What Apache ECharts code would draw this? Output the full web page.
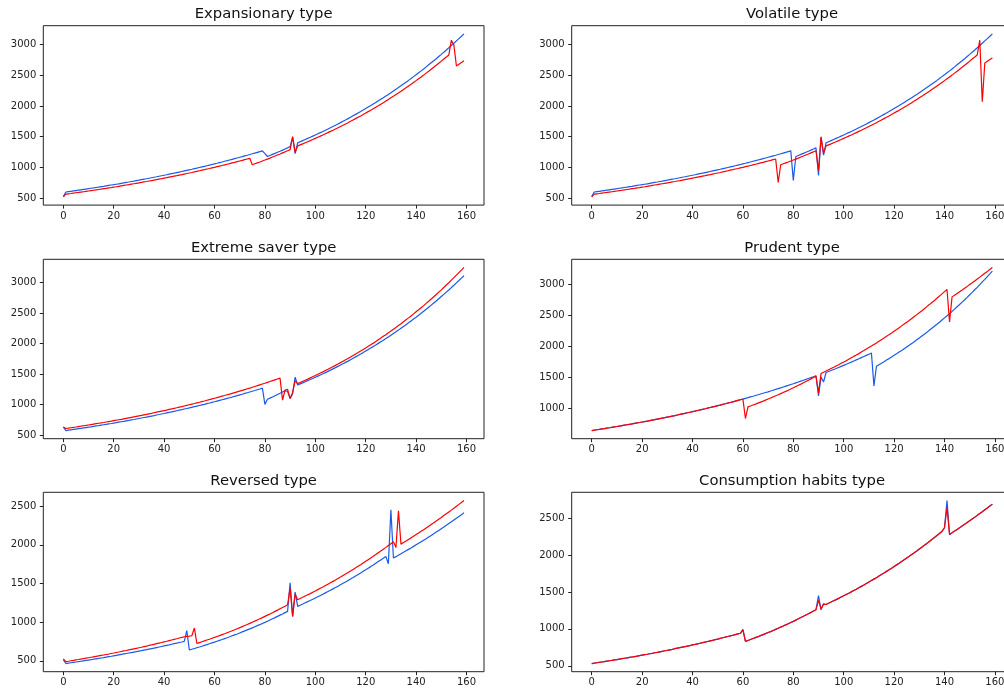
<!DOCTYPE html>
<html><head><meta charset="utf-8">
<script src="https://cdn.jsdelivr.net/npm/echarts@6/dist/echarts.min.js"></script>
<style>html,body{margin:0;padding:0;background:#fff;overflow:hidden;width:1004px;height:691px}#c{width:1024px;height:691px}</style>
</head><body><div id="c"></div>
<script>
const titles = ['Expansionary type','Volatile type','Extreme saver type','Prudent type','Reversed type','Consumption habits type'];
const xTicks = [0,20,40,60,80,100,120,140,160];
const yTicksA = [500,1000,1500,2000,2500,3000];
const yTicksB = [1000,1500,2000,2500,3000];
const yTicksC = [500,1000,1500,2000,2500];

const expansionaryBlue = [525,600,606,612,618,624,630,636,642,648,654,661,667,674,680,687,693,700,707,714,720,727,734,742,749,756,763,771,778,786,793,801,809,816,824,832,840,848,857,865,873,881,890,899,907,916,925,934,943,952,961,970,980,989,999,1009,1018,1028,1038,1048,1058,1068,1079,1089,1100,1110,1121,1132,1143,1154,1165,1176,1188,1199,1211,1222,1234,1246,1258,1270,1225,1178,1195,1212,1229,1247,1264,1282,1301,1319,1338,1490,1225,1400,1418,1436,1454,1472,1490,1509,1528,1547,1566,1585,1605,1625,1646,1666,1686,1708,1729,1751,1772,1794,1817,1840,1863,1886,1909,1933,1958,1982,2006,2031,2057,2083,2109,2135,2161,2188,2216,2244,2271,2299,2328,2358,2387,2416,2446,2477,2508,2540,2571,2602,2636,2669,2702,2735,2769,2804,2839,2875,2910,2946,2983,3021,3059,3096,3134,3173];
const expansionaryRed = [520,565,571,576,582,588,593,599,605,611,617,623,629,635,641,647,654,660,667,673,680,686,693,700,707,714,720,728,735,742,749,756,764,771,779,786,794,802,810,817,825,833,842,850,858,866,875,883,892,901,910,918,927,937,946,955,964,974,983,993,1002,1012,1022,1032,1042,1052,1062,1073,1083,1094,1105,1115,1126,1137,1148,1044,1059,1074,1089,1105,1120,1136,1152,1169,1185,1202,1219,1237,1254,1272,1290,1500,1245,1350,1367,1384,1402,1419,1436,1454,1473,1491,1509,1527,1547,1566,1586,1605,1625,1645,1666,1687,1707,1728,1750,1772,1794,1816,1838,1861,1885,1908,1931,1955,1980,2004,2029,2054,2079,2106,2132,2158,2185,2211,2239,2268,2296,2324,2352,2382,2412,2442,2472,2502,2534,2565,2597,2629,2661,2695,2729,2763,2796,2830,3070,2990,2650,2678,2706,2734];
const volatileBlue = [525,600,606,612,618,624,630,636,642,648,654,661,667,674,680,687,693,700,707,714,720,727,734,742,749,756,763,771,778,786,793,801,809,816,824,832,840,848,857,865,873,881,890,899,907,916,925,934,943,952,961,970,980,989,999,1009,1018,1028,1038,1048,1058,1068,1079,1089,1100,1110,1121,1132,1143,1154,1165,1176,1188,1199,1211,1222,1234,1246,1258,1270,790,1178,1195,1212,1229,1247,1264,1282,1301,1319,870,1485,1200,1400,1418,1436,1454,1472,1490,1509,1528,1547,1566,1585,1605,1625,1646,1666,1686,1708,1729,1751,1772,1794,1817,1840,1863,1886,1909,1933,1958,1982,2006,2031,2057,2083,2109,2135,2161,2188,2216,2244,2271,2299,2328,2358,2387,2416,2446,2477,2508,2540,2571,2602,2636,2669,2702,2735,2769,2804,2839,2875,2910,2946,2983,3021,3059,3096,3134,3173];
const volatileRed = [520,565,571,576,582,588,593,599,605,611,617,623,629,635,641,647,654,660,667,673,680,686,693,700,707,714,720,728,735,742,749,756,764,771,779,786,794,802,810,817,825,833,842,850,858,866,875,883,892,901,910,918,927,937,946,955,964,974,983,993,1002,1012,1022,1032,1042,1052,1062,1073,1083,1094,1105,1115,1126,1137,755,1044,1059,1074,1089,1105,1120,1136,1152,1169,1185,1202,1219,1237,1254,1272,950,1500,1230,1350,1367,1384,1402,1419,1436,1454,1473,1491,1509,1527,1547,1566,1586,1605,1625,1645,1666,1687,1707,1728,1750,1772,1794,1816,1838,1861,1885,1908,1931,1955,1980,2004,2029,2054,2079,2106,2132,2158,2185,2211,2239,2268,2296,2324,2352,2382,2412,2442,2472,2502,2534,2565,2597,2629,2661,2695,2729,2763,2796,2830,3070,2070,2700,2727,2754,2782];
const saverBlue = [635,577,583,589,595,601,607,613,620,626,632,638,645,652,658,665,672,679,686,692,699,706,714,721,728,736,743,751,758,766,774,782,790,798,806,814,822,831,839,848,856,865,874,883,892,901,910,919,929,938,947,957,967,977,987,997,1006,1017,1027,1038,1048,1059,1070,1081,1092,1103,1114,1125,1137,1148,1160,1171,1184,1196,1208,1220,1232,1245,1257,1270,1005,1088,1107,1127,1147,1167,1187,1208,1230,1215,1100,1180,1450,1322,1340,1357,1375,1393,1411,1429,1448,1467,1486,1505,1525,1545,1565,1586,1606,1627,1649,1670,1692,1713,1736,1759,1782,1805,1828,1852,1877,1901,1926,1950,1976,2003,2029,2055,2081,2109,2137,2165,2192,2220,2250,2280,2309,2339,2369,2401,2432,2464,2496,2528,2561,2595,2629,2663,2697,2733,2769,2805,2841,2877,2916,2954,2993,3031,3070,3110];
const saverRed = [635,610,616,623,629,635,642,648,655,661,668,675,682,689,696,702,709,717,724,731,739,746,754,761,769,777,785,793,801,809,817,825,834,842,851,859,868,877,886,895,903,912,922,931,941,950,960,969,979,989,999,1009,1019,1030,1040,1051,1061,1072,1083,1094,1105,1116,1127,1139,1150,1162,1173,1186,1198,1210,1222,1234,1247,1260,1272,1285,1298,1311,1325,1338,1351,1365,1379,1393,1407,1421,1435,1075,1240,1250,1100,1200,1390,1345,1364,1382,1401,1419,1438,1458,1478,1497,1517,1537,1558,1579,1601,1622,1643,1666,1688,1711,1734,1756,1781,1805,1829,1853,1878,1904,1929,1955,1981,2007,2035,2063,2090,2118,2146,2175,2205,2235,2264,2294,2325,2357,2389,2420,2452,2486,2520,2553,2587,2621,2657,2693,2730,2766,2802,2841,2879,2918,2957,2995,3037,3078,3119,3161,3202,3245];
const prudentBlue = [633,639,646,652,659,665,672,678,685,692,699,706,713,720,727,734,741,749,756,763,771,779,786,794,802,810,818,826,834,842,851,859,868,876,885,894,903,912,921,930,939,948,958,967,977,986,996,1006,1016,1026,1036,1046,1057,1067,1078,1088,1099,1110,1121,1132,1143,1155,1166,1178,1189,1201,1213,1225,1237,1249,1261,1274,1287,1300,1312,1325,1339,1352,1365,1379,1392,1406,1420,1434,1448,1462,1477,1492,1506,1521,1195,1500,1420,1574,1590,1606,1623,1639,1656,1673,1690,1707,1725,1742,1760,1778,1796,1815,1833,1852,1871,1890,1357,1676,1701,1725,1750,1775,1799,1826,1852,1878,1905,1931,1960,1988,2016,2045,2073,2104,2134,2165,2195,2225,2258,2291,2324,2356,2389,2424,2459,2494,2529,2564,2602,2640,2677,2715,2753,2793,2834,2874,2915,2955,2998,3042,3085,3129,3172,3217];
const prudentRed = [633,639,646,652,659,665,672,678,685,692,699,706,713,720,727,734,741,749,756,763,771,779,786,794,802,810,818,826,834,842,851,859,868,876,885,894,903,912,921,930,939,948,958,967,977,986,996,1006,1016,1026,1036,1046,1057,1067,1078,1088,1099,1110,1121,1132,1143,828,1016,1031,1047,1062,1078,1094,1110,1127,1144,1161,1178,1196,1213,1232,1250,1268,1287,1307,1326,1346,1366,1386,1407,1428,1449,1471,1493,1515,1243,1557,1577,1597,1618,1638,1658,1680,1701,1723,1744,1766,1789,1812,1835,1857,1880,1905,1929,1954,1978,2002,2028,2054,2080,2106,2132,2160,2188,2215,2243,2271,2300,2330,2359,2389,2418,2450,2481,2512,2544,2575,2608,2642,2675,2709,2742,2778,2813,2849,2885,2920,2395,2800,2828,2856,2884,2912,2941,2970,3000,3029,3059,3089,3120,3151,3182,3213,3245,3277];
const reversedBlue = [515,465,470,475,480,485,489,495,500,505,510,515,521,526,531,537,542,548,554,559,565,571,577,583,589,595,601,607,613,619,626,632,639,645,652,659,665,672,679,686,693,700,707,715,722,729,737,744,752,890,640,650,660,670,679,689,700,710,721,732,742,754,765,776,788,799,811,824,836,848,861,874,887,900,913,927,941,955,969,984,998,1013,1029,1044,1059,1075,1091,1107,1124,1140,1510,1075,1390,1205,1220,1235,1251,1266,1281,1297,1314,1330,1346,1362,1379,1396,1414,1431,1448,1466,1485,1503,1521,1540,1559,1578,1598,1617,1637,1658,1678,1699,1719,1740,1762,1784,1806,1828,1850,1755,2455,1830,1848,1867,1885,1904,1923,1942,1961,1981,2001,2021,2041,2061,2081,2102,2123,2144,2166,2187,2209,2231,2253,2276,2298,2321,2344,2368,2391,2415];
const reversedRed = [525,490,495,501,506,512,517,523,528,534,540,546,552,558,564,570,576,582,588,595,601,608,614,621,628,634,641,648,655,662,669,676,684,691,699,706,714,722,730,737,745,753,762,770,778,786,795,803,812,816,820,825,925,725,736,747,758,769,780,792,803,815,827,839,851,864,877,889,902,916,929,943,957,970,985,1000,1014,1029,1044,1059,1075,1091,1107,1123,1140,1156,1173,1190,1207,1225,1440,1075,1360,1290,1306,1322,1338,1354,1370,1387,1404,1421,1438,1455,1474,1492,1510,1528,1546,1565,1584,1604,1623,1642,1662,1683,1703,1724,1744,1766,1787,1809,1831,1852,1875,1899,1922,1945,1968,1992,2016,2040,1965,2440,2010,2030,2050,2071,2091,2112,2133,2154,2176,2197,2219,2241,2264,2286,2309,2332,2355,2379,2402,2426,2450,2475,2499,2524,2549,2575];
const habitsBlue = [530,535,541,546,551,556,562,568,573,579,584,590,596,602,607,613,619,625,631,638,644,650,656,663,669,676,682,689,696,703,709,716,723,731,738,745,752,759,767,774,782,789,797,805,813,821,829,837,845,853,861,870,879,887,896,904,913,922,931,940,990,830,843,856,869,881,894,908,922,936,950,963,978,993,1008,1023,1038,1054,1070,1086,1102,1118,1136,1153,1170,1188,1205,1223,1242,1260,1450,1258,1340,1330,1347,1363,1380,1396,1413,1431,1448,1466,1483,1501,1520,1538,1557,1576,1595,1615,1634,1654,1674,1694,1715,1736,1757,1779,1800,1822,1845,1867,1889,1912,1936,1960,1983,2007,2031,2056,2082,2107,2132,2158,2185,2211,2238,2265,2292,2320,2370,2740,2280,2302,2325,2348,2371,2394,2417,2441,2465,2489,2513,2538,2562,2587,2613,2638,2664,2690];
const habitsRed = [530,535,541,546,551,556,562,568,573,579,584,590,596,602,607,613,619,625,631,638,644,650,656,663,669,676,682,689,696,703,709,716,723,731,738,745,752,759,767,774,782,789,797,805,813,821,829,837,845,853,861,870,879,887,896,904,913,922,931,940,990,830,843,856,869,881,894,908,922,936,950,963,978,993,1008,1023,1038,1054,1070,1086,1102,1118,1136,1153,1170,1188,1205,1223,1242,1260,1385,1270,1335,1330,1347,1363,1380,1396,1413,1431,1448,1466,1483,1501,1520,1538,1557,1576,1595,1615,1634,1654,1674,1694,1715,1736,1757,1779,1800,1822,1845,1867,1889,1912,1936,1960,1983,2007,2031,2056,2082,2107,2132,2158,2185,2211,2238,2265,2292,2320,2370,2640,2280,2302,2325,2348,2371,2394,2417,2441,2465,2489,2513,2538,2562,2587,2613,2638,2664,2690];

const panels = [
  {blue: expansionaryBlue, red: expansionaryRed, ticks: yTicksA},
  {blue: volatileBlue, red: volatileRed, ticks: yTicksA},
  {blue: saverBlue, red: saverRed, ticks: yTicksA},
  {blue: prudentBlue, red: prudentRed, ticks: yTicksB},
  {blue: reversedBlue, red: reversedRed, ticks: yTicksC},
  {blue: habitsBlue, red: habitsRed, ticks: yTicksC}
];

const FONT = 'DejaVu Sans';
const colLeft = [43.3, 571.7], plotW = 440.7, rowTop = [25.7, 259.3, 492.3], plotH = 179.4;
const BLUE = '#1a5ae8', RED = '#ff0000';

const grid = [], xAxis = [], yAxis = [], series = [], graphic = [];
panels.forEach((p, i) => {
  const col = i % 2, row = Math.floor(i / 2);
  const n = p.blue.length;
  const all = p.blue.concat(p.red);
  const lo = Math.min(...all), hi = Math.max(...all), m = (hi - lo) * 0.05;
  grid.push({left: colLeft[col], top: rowTop[row], width: plotW, height: plotH,
    show: true, borderColor: '#222', borderWidth: 1, backgroundColor: 'transparent', containLabel: false});
  xAxis.push({type: 'value', gridIndex: i, min: -(n - 1) * 0.05, max: (n - 1) * 1.05,
    axisLine: {show: false, onZero: false}, splitLine: {show: false},
    axisTick: {show: true, length: 3.5, inside: false, customValues: xTicks, lineStyle: {color: '#222', width: 1}},
    axisLabel: {customValues: xTicks, fontSize: 10, color: '#222', margin: 6, fontFamily: FONT, formatter: v => String(v)}});
  yAxis.push({type: 'value', gridIndex: i, min: lo - m, max: hi + m, scale: true,
    axisLine: {show: false, onZero: false}, splitLine: {show: false},
    axisTick: {show: true, length: 3.5, inside: false, customValues: p.ticks, lineStyle: {color: '#222', width: 1}},
    axisLabel: {customValues: p.ticks, fontSize: 10, color: '#222', margin: 7, fontFamily: FONT, formatter: v => String(v)}});
  series.push({type: 'line', xAxisIndex: i, yAxisIndex: i, data: p.blue.map((v, k) => [k, v]),
    showSymbol: false, symbol: 'none', lineStyle: {color: BLUE, width: 1.2}, itemStyle: {color: BLUE}, z: 2, animation: false});
  series.push({type: 'line', xAxisIndex: i, yAxisIndex: i, data: p.red.map((v, k) => [k, v]),
    showSymbol: false, symbol: 'none', lineStyle: {color: RED, width: 1.2}, itemStyle: {color: RED}, z: 3, animation: false});
  graphic.push({type: 'text', x: colLeft[col] + plotW / 2, y: rowTop[row] - 11.5,
    style: {text: titles[i], fontSize: 14.8, fontFamily: FONT, fill: '#111', textAlign: 'center', textVerticalAlign: 'middle'}});
});

const chart = echarts.init(document.getElementById('c'), null, {renderer: 'canvas'});
chart.setOption({animation: false, backgroundColor: '#fff', grid, xAxis, yAxis, series, graphic});
</script>
</body></html>
